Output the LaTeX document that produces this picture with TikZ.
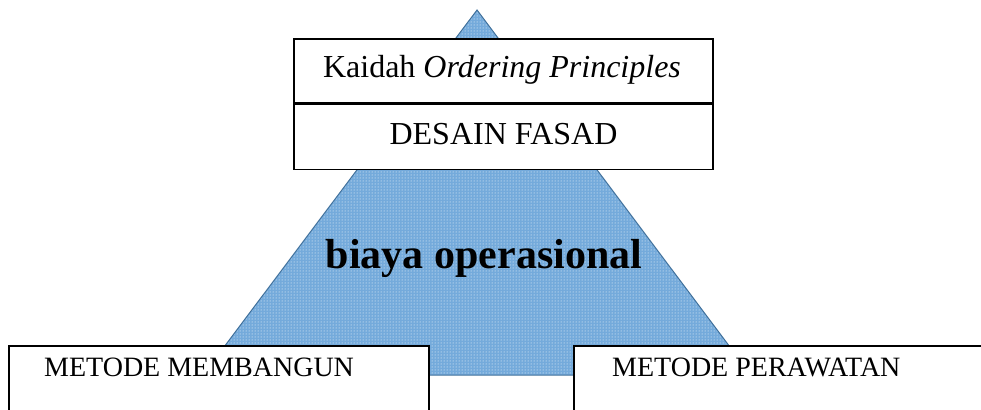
\documentclass[tikz,border=0pt]{standalone}
\usepackage{fontspec}
\setmainfont{Liberation Serif}
\usepackage{tikz}
\definecolor{main}{RGB}{91,155,213}
\definecolor{mainline}{RGB}{65,113,156}
\usetikzlibrary{
	positioning,
	patterns,
	calc
}
\tikzset{
  % fill
	cstfill/.style       ={fill=main!85!white},
	cstfille/.style      ={pattern=dots, pattern color=white},
	cstedge/.style       ={draw=mainline, line width=1pt},
  % node
	cstbox/.style        ={fill=white,draw=black,line width=1.2pt,inner sep=0pt},
	csttext/.style       ={font=\fontsize{28}{30}\selectfont,inner sep=0pt,anchor=base west},
	csttop/.style        ={font=\fontsize{32}{34}\selectfont,inner sep=0pt,anchor=base}
}

\begin{document}
\begin{tikzpicture}[x=1pt,y=-1pt]
	\useasboundingbox (0,0) rectangle (981,409);
	\clip (0,0) rectangle (981,409);
	% segitiga
	\coordinate (top) at (477,10);
	\coordinate (bl) at (203,375);
	\coordinate (br) at (751,375);
	\fill[cstfill] (top)--(bl)--(br)--cycle;
	\fill[cstfille] (top)--(bl)--(br)--cycle;
	\draw[cstedge] (top)--(bl)--(br)--cycle;
	\node[font=\fontsize{42}{44}\selectfont\bfseries,inner sep=0pt,anchor=base] (biaya) at (484,268) {biaya operasional};
	% kotak atas
	\node[cstbox,minimum width=419pt,minimum height=64pt] (kaidah) at (503.5,71) {};
	\node[cstbox,minimum width=419pt,minimum height=65pt,below=0pt of kaidah] (desain) {};
	\node[csttop] (kaidahtxt) at (502,78) {Kaidah \textit{Ordering Principles}};
	\node[csttop] (desaintxt) at (503.5,144) {DESAIN FASAD};
	% kotak bawah
	\draw[cstbox] (9,430) |- (429,346) -- (429,430);
	\draw[cstbox] (574,430) |- (1000,346);
	\node[csttext] (membangun) at (44,376) {METODE MEMBANGUN};
	\node[csttext] (perawatan) at (612,376) {METODE PERAWATAN};
\end{tikzpicture}
\end{document}
